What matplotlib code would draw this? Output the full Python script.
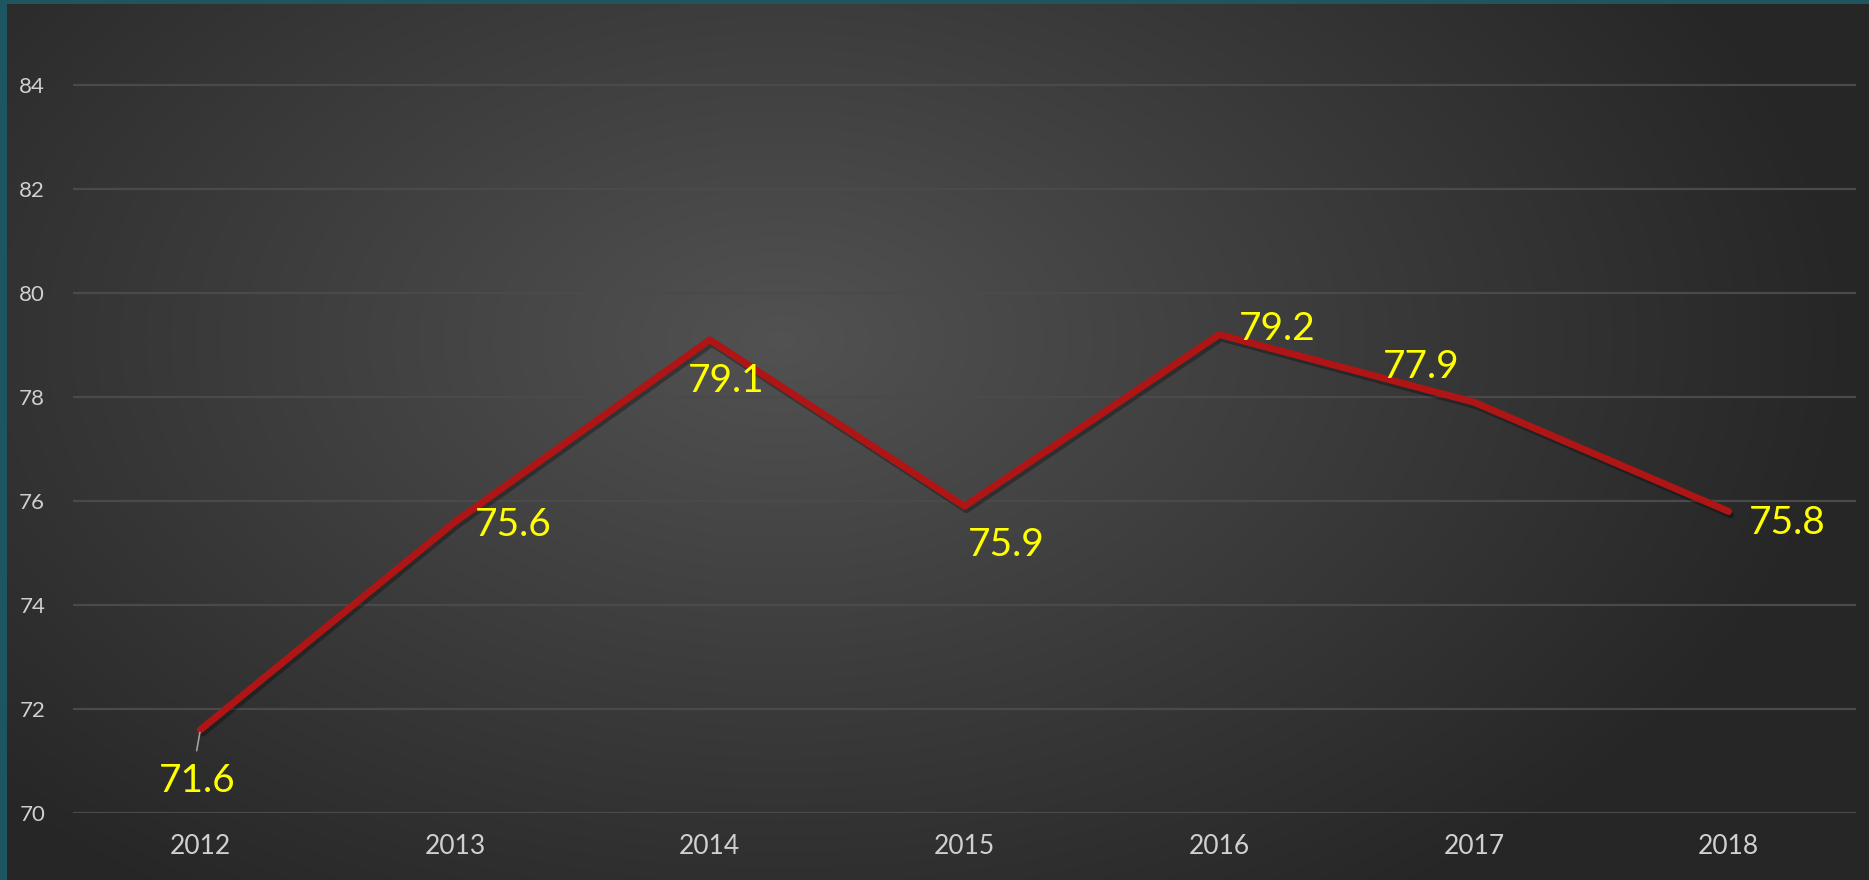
import numpy as np
import matplotlib
matplotlib.use("Agg")
import matplotlib.pyplot as plt
import matplotlib.patheffects as pe
from matplotlib.patches import Rectangle

years = ["2012", "2013", "2014", "2015", "2016", "2017", "2018"]
values = [71.6, 75.6, 79.1, 75.9, 79.2, 77.9, 75.8]
# label offsets in points (dx, dy) from each point
label_offsets = [(-2, -37), (42, -2), (12, -30), (30, -28), (42, 4), (-38, 25), (42, -8)]

plt.rcParams['font.family'] = ['Lato', 'DejaVu Sans']

fig = plt.figure(figsize=(18.69, 8.8), dpi=100)

# background: teal frame + dark radial gradient panel
bg = fig.add_axes([0, 0, 1, 1], zorder=-10)
bg.set_axis_off()
W, H = 1869, 880
yy, xx = np.mgrid[0:H, 0:W]
r = np.sqrt(((xx - 780) / 1200.0) ** 2 + ((yy - 340) / 760.0) ** 2)
shade = np.clip(0.32 - 0.19 * r, 0.15, 0.32)
img = np.dstack([shade, shade, shade])
bg.imshow(img, extent=[0, W, H, 0], aspect='auto', interpolation='bilinear')
bg.set_xlim(0, W)
bg.set_ylim(H, 0)
bg.add_patch(Rectangle((0, 0), 7, H, color='#1d5660', lw=0))
bg.add_patch(Rectangle((0, 0), W, 4, color='#1d5660', lw=0))

ax = fig.add_axes([73 / W, 1 - 813 / H, (1856 - 73) / W, (813 - 33) / H])
ax.patch.set_alpha(0)
x = np.arange(len(years))
ax.plot(x, values, color='#b01515', lw=5, solid_capstyle='round', zorder=3,
        path_effects=[pe.SimpleLineShadow(offset=(1.5, -2.5), shadow_color='black', alpha=0.3),
                      pe.Normal()])

for i, v in enumerate(values):
    dx, dy = label_offsets[i]
    ax.annotate(f"{v}", (x[i], v), xytext=(dx, dy), textcoords='offset points',
                ha='center', va='center', color='#ffff00', fontsize=28, zorder=4)

# leader line for the first label
ax.annotate("", (x[0], values[0]), xytext=(-3, -17), textcoords='offset points',
            arrowprops=dict(arrowstyle='-', color='#a0a0a0', lw=1.2), zorder=4)

ax.set_xlim(-0.5, len(years) - 0.5)
ax.set_ylim(70, 85)
ax.set_yticks(np.arange(70, 85, 2))
ax.set_xticks(x)
ax.set_xticklabels(years)
ax.grid(axis='y', color='#4a4a4a', lw=1.6)
ax.set_axisbelow(True)
for s in ax.spines.values():
    s.set_visible(False)
ax.tick_params(axis='both', length=0, colors='#d0d0d0')
ax.tick_params(axis='y', labelsize=16, pad=20)
ax.tick_params(axis='x', labelsize=19, pad=15)

fig.savefig("out.png", dpi=100)
